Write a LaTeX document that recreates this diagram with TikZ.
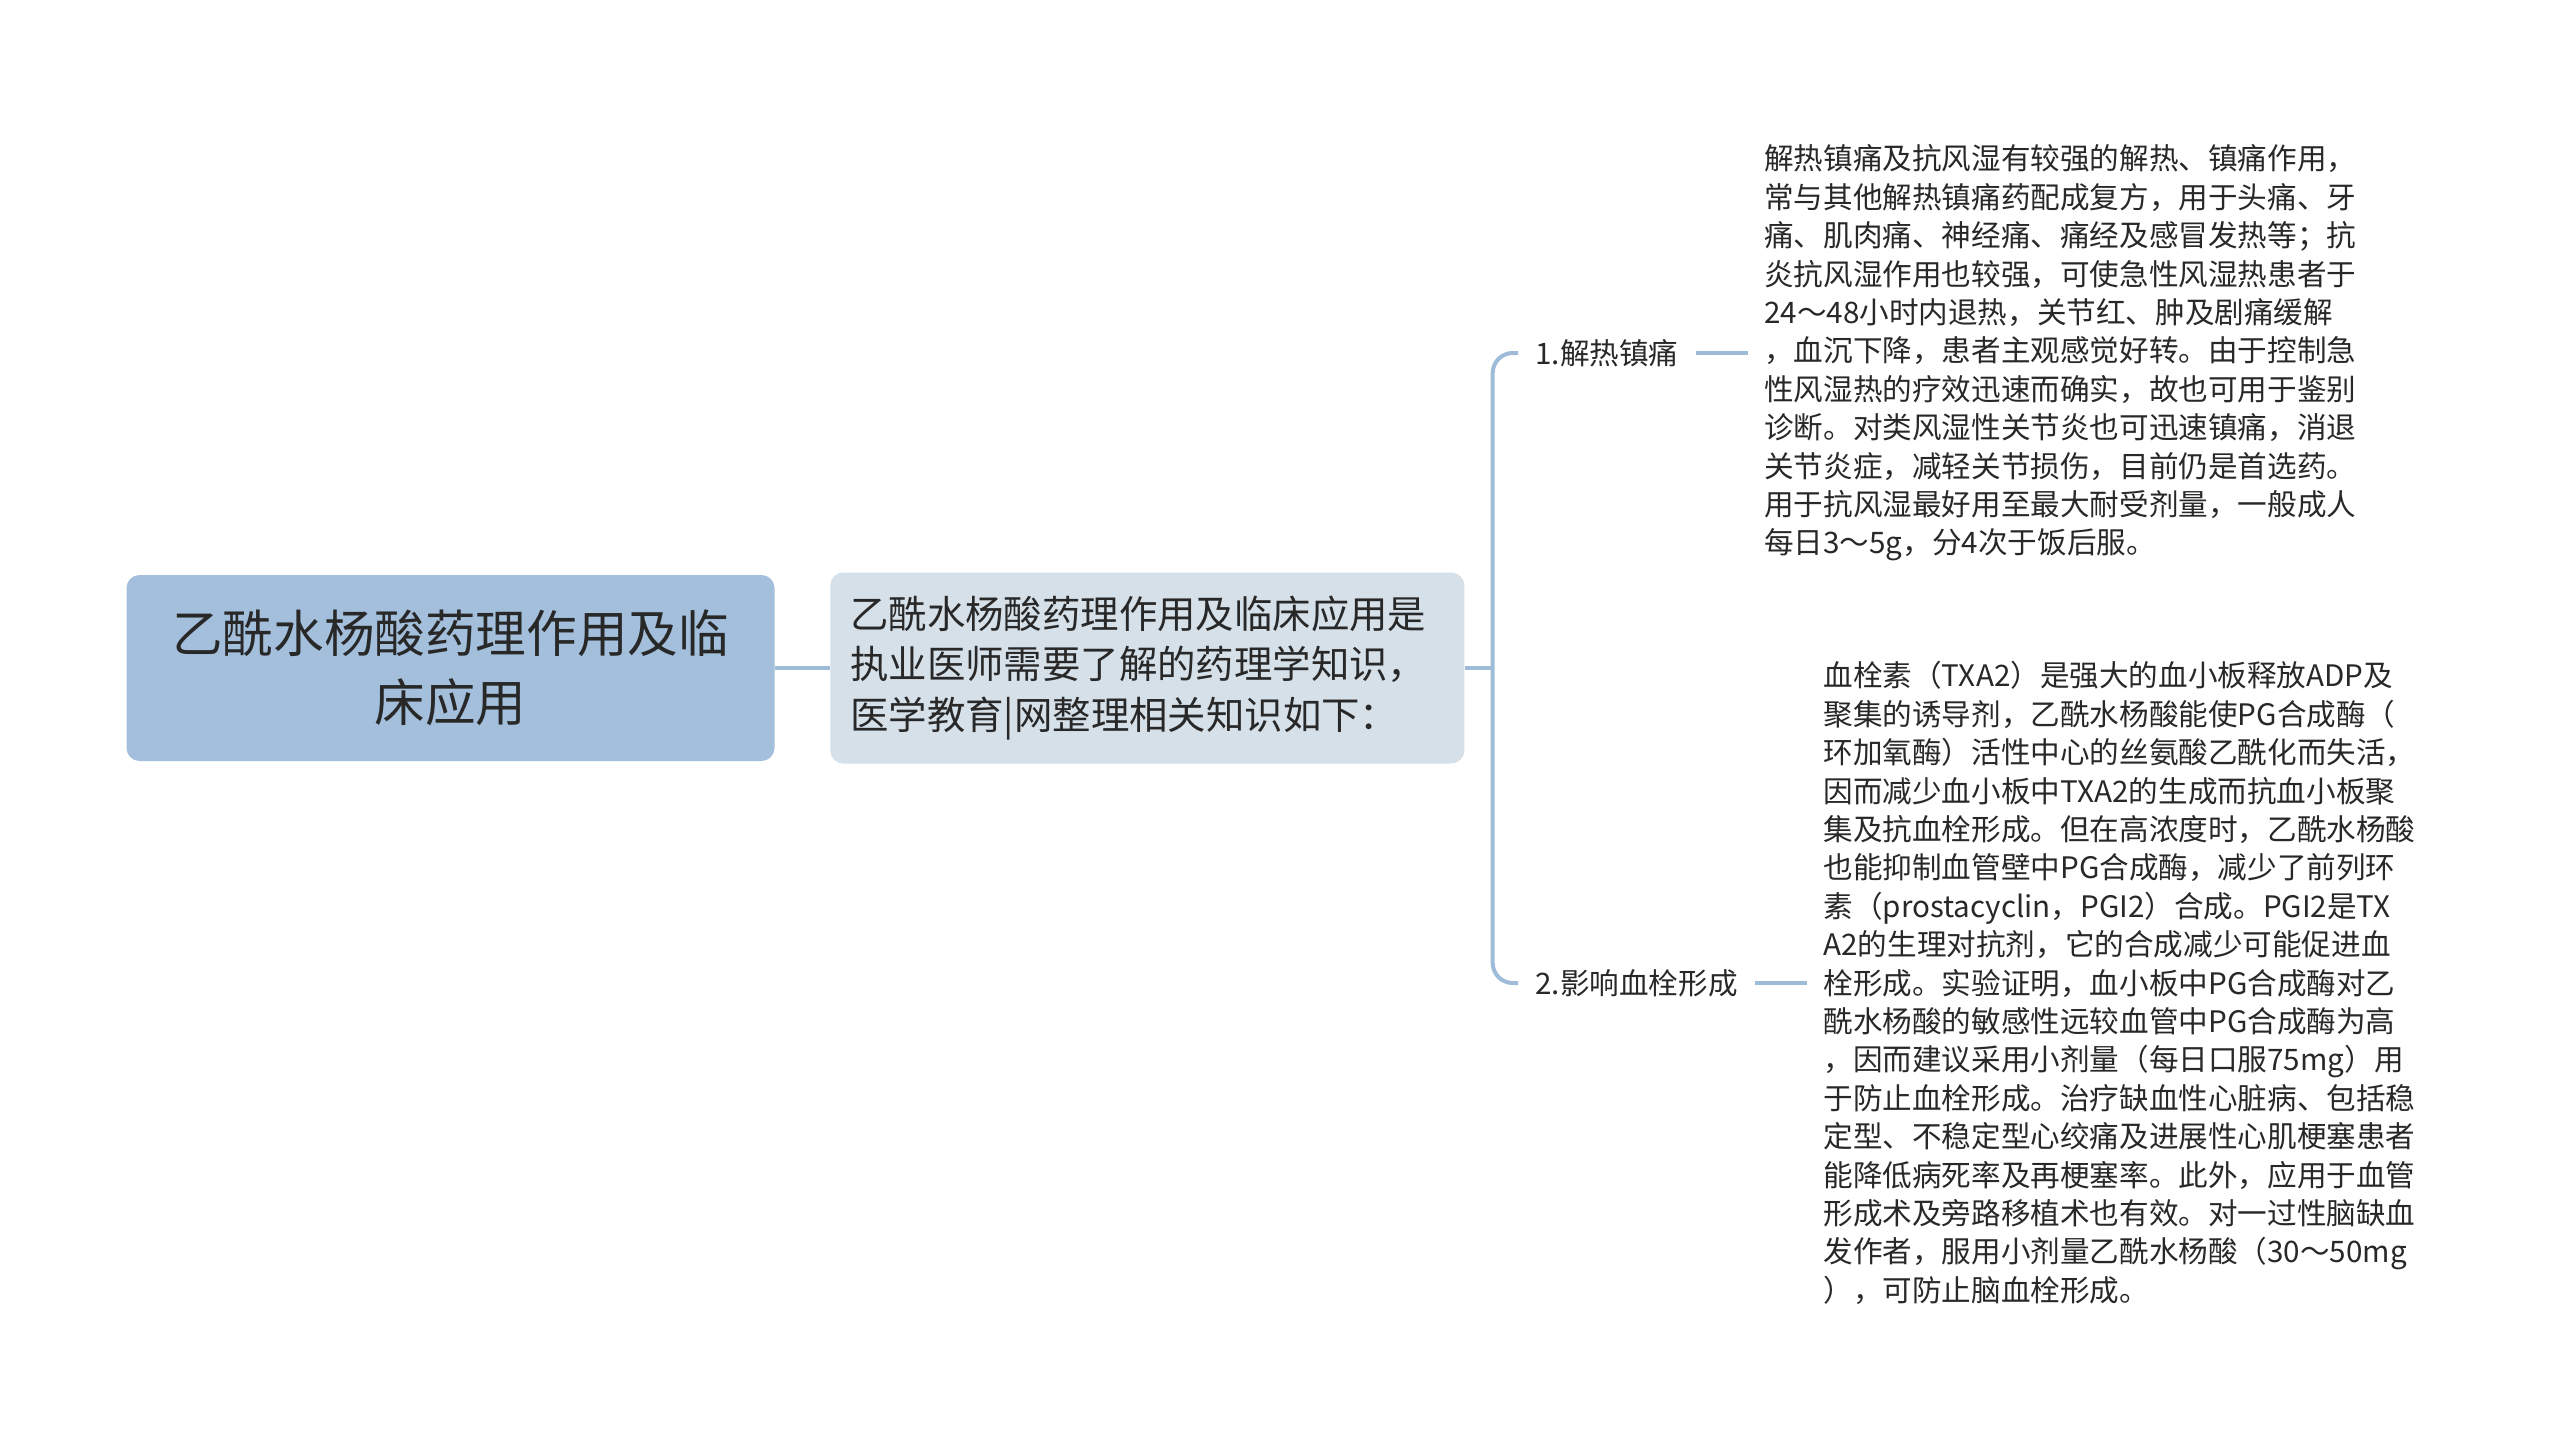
\documentclass[tikz,border=0pt]{standalone}
\usepackage{fontspec}
\setmainfont{Noto Sans CJK SC}
\usetikzlibrary{positioning}
\definecolor{rootblue}{RGB}{163,191,219}
\definecolor{subblue}{RGB}{213,224,233}
\definecolor{linkblue}{RGB}{158,188,215}
\definecolor{txt}{RGB}{40,40,40}

\begin{document}
\begin{tikzpicture}[x=0.5pt,y=-0.5pt,
  root node/.style={rounded corners=6.5pt,fill=rootblue,text=txt,text width=282pt,inner xsep=21pt,minimum height=93pt,align=center,font=\fontsize{25.3pt}{34.3pt}\selectfont},
  sub node/.style={rounded corners=6.5pt,fill=subblue,text=txt,text width=297pt,inner xsep=10pt,minimum height=95.5pt,align=left,font=\fontsize{19.2pt}{25.3pt}\selectfont},
  label node/.style={text=txt,inner xsep=8.5pt,font=\fontsize{14.8pt}{19.2pt}\selectfont},
  detail node/.style={text=txt,inner xsep=8pt,text width=305pt,align=left,font=\fontsize{14.8pt}{19.2pt}\selectfont},
  link/.style={draw=linkblue,line width=2pt}]

  \fill[white] (0,0) rectangle (2560,1451);
  \useasboundingbox (0,0) rectangle (2560,1451);

  \node[root node] (root) at (450.5,668) {乙酰水杨酸药理作用及临\\床应用};
  \node[sub node] (sub) [right=27.5pt of root] {乙酰水杨酸药理作用及临床应用是\\执业医师需要了解的药理学知识，\\医学教育|网整理相关知识如下：};

  \node[label node,anchor=west] (l1) at (1518,353) {1.解热镇痛};
  \node[label node,anchor=west] (l2) at (1518,983) {2.影响血栓形成};

  \node[detail node] (d1) [right=26pt of l1] {解热镇痛及抗风湿有较强的解热、镇痛作用，\\
常与其他解热镇痛药配成复方，用于头痛、牙\\
痛、肌肉痛、神经痛、痛经及感冒发热等；抗\\
炎抗风湿作用也较强，可使急性风湿热患者于\\
24～48小时内退热，关节红、肿及剧痛缓解\\
，血沉下降，患者主观感觉好转。由于控制急\\
性风湿热的疗效迅速而确实，故也可用于鉴别\\
诊断。对类风湿性关节炎也可迅速镇痛，消退\\
关节炎症，减轻关节损伤，目前仍是首选药。\\
用于抗风湿最好用至最大耐受剂量，一般成人\\
每日3～5g，分4次于饭后服。};

  \node[detail node] (d2) [right=26pt of l2] {血栓素（TXA2）是强大的血小板释放ADP及\\
聚集的诱导剂，乙酰水杨酸能使PG合成酶（\\
环加氧酶）活性中心的丝氨酸乙酰化而失活，\\
因而减少血小板中TXA2的生成而抗血小板聚\\
集及抗血栓形成。但在高浓度时，乙酰水杨酸\\
也能抑制血管壁中PG合成酶，减少了前列环\\
素（prostacyclin，PGI2）合成。PGI2是TX\\
A2的生理对抗剂，它的合成减少可能促进血\\
栓形成。实验证明，血小板中PG合成酶对乙\\
酰水杨酸的敏感性远较血管中PG合成酶为高\\
，因而建议采用小剂量（每日口服75mg）用\\
于防止血栓形成。治疗缺血性心脏病、包括稳\\
定型、不稳定型心绞痛及进展性心肌梗塞患者\\
能降低病死率及再梗塞率。此外，应用于血管\\
形成术及旁路移植术也有效。对一过性脑缺血\\
发作者，服用小剂量乙酰水杨酸（30～50mg\\
），可防止脑血栓形成。};

  \coordinate (bx) at ([xshift=14pt]sub.east);

  \draw[link] (root) -- (sub);
  \draw[link] (sub) -- (bx);
  \draw[link,rounded corners=10pt] (bx) |- (l1);
  \draw[link,rounded corners=10pt] (bx) |- (l2);
  \draw[link] (l1) -- (d1);
  \draw[link] (l2) -- (d2);

\end{tikzpicture}
\end{document}
